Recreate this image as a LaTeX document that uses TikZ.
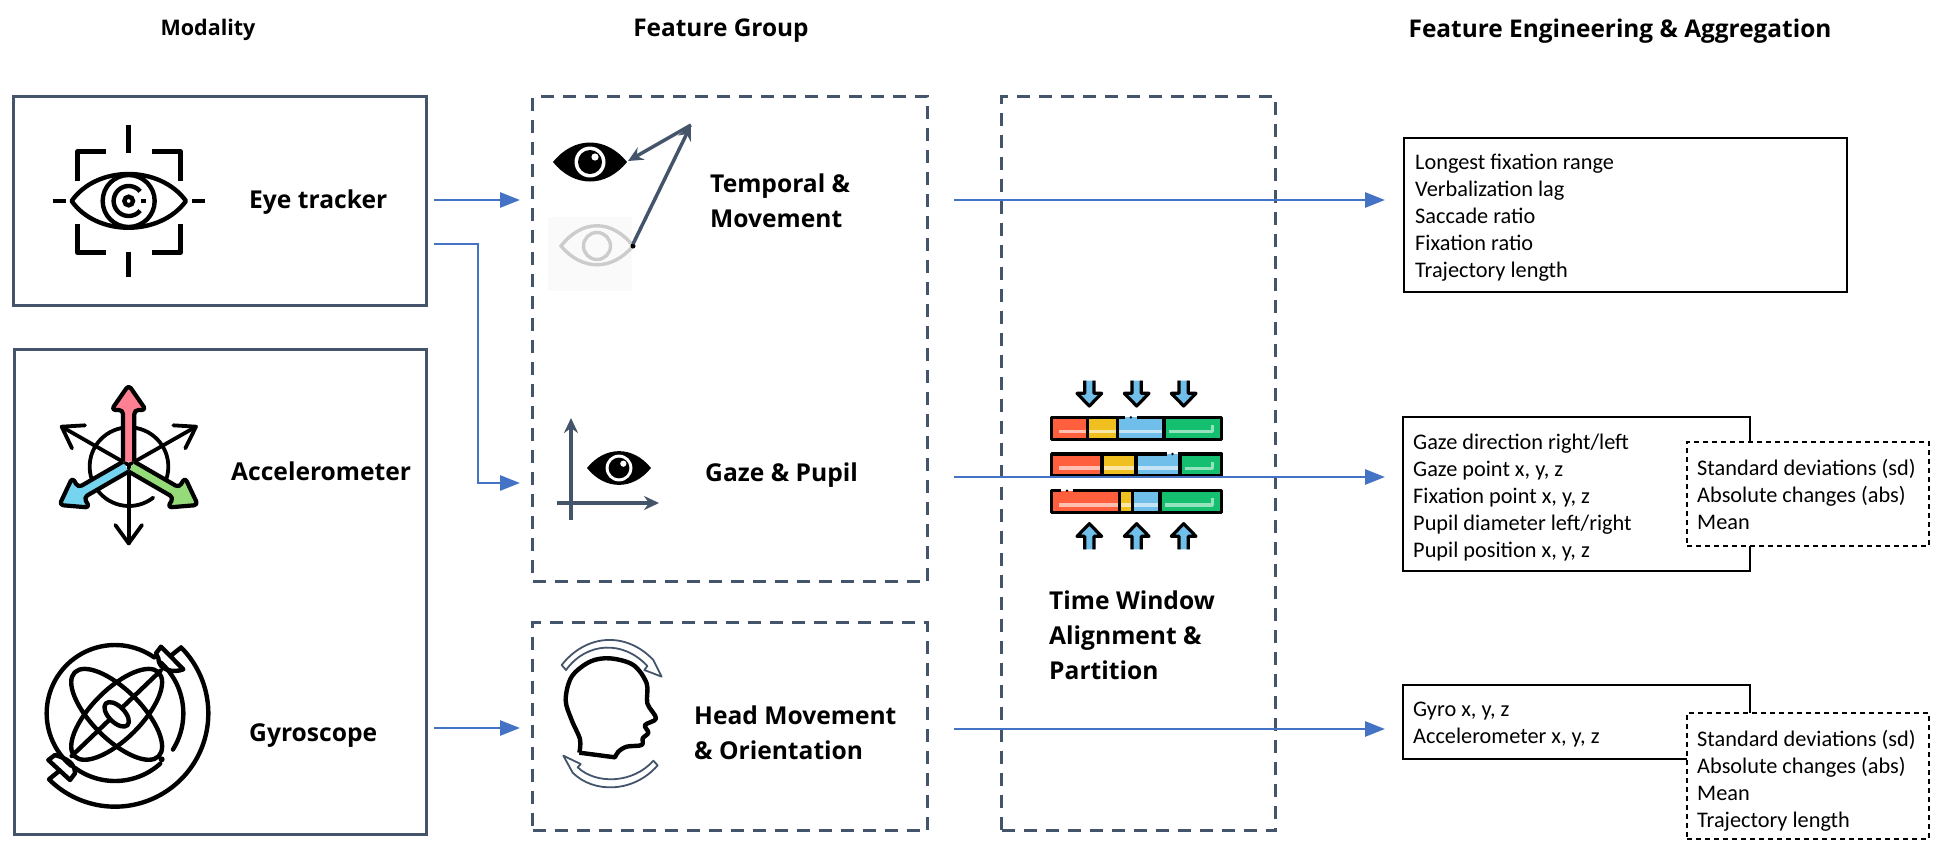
\documentclass[tikz,border=0pt]{standalone}
\usepackage{fontspec}
\setmainfont{Carlito}
\newfontfamily\headfont{Open Sans}
\usetikzlibrary{arrows.meta}
\definecolor{slate}{HTML}{44546A}
\definecolor{arrowblue}{HTML}{4472C4}
\definecolor{barred}{HTML}{FF5F3D}
\definecolor{baryellow}{HTML}{F0C020}
\definecolor{barblue}{HTML}{6FBFEA}
\definecolor{bargreen}{HTML}{14C070}
\definecolor{fatred}{HTML}{FF7F93}
\definecolor{fatblue}{HTML}{75D5F0}
\definecolor{fatgreen}{HTML}{95DB7A}
\tikzset{
 x=1pt,y=-1pt,
 solidbox/.style={draw=slate,line width=3.2pt,minimum width=0pt},
 groupbox/.style={draw=slate,line width=3.2pt,dash pattern=on 13pt off 9pt},
 textbox/.style={draw=black,line width=2.2pt,fill=white},
 smallbox/.style={draw=black,line width=2pt,dash pattern=on 5pt off 4pt,fill=white},
 flow/.style={draw=arrowblue,line width=2.8pt,-{Triangle[length=20pt,width=15pt]}},
 slatearrow/.style={draw=slate,line width=3.5pt,-{Stealth[length=15pt,width=14pt,inset=5pt]}},
 head/.style={font=\headfont\bfseries\fontsize{24.6}{28}\selectfont,anchor=west,align=left,inner sep=0pt},
 title/.style={font=\headfont\bfseries\fontsize{24.4}{28}\selectfont,inner sep=0pt},
 listing/.style={font=\fontsize{22.3}{27}\selectfont,anchor=north west,align=left,inner sep=0pt},
 icon/.style={line width=4.4pt,draw=black},
 thin arrowshape/.style={line width=3.8pt,draw=black,line cap=round,line join=round},
}
\newcommand{\boxat}[5]{\node[#1,anchor=north west,minimum width={(#4)*1pt-(#2)*1pt},minimum height={(#5)*1pt-(#3)*1pt},inner sep=0pt] (#1#2) at (#2,#3) {};}
\newcommand{\solideye}[3]{%
 \begin{scope}[shift={(#1,#2)},scale=#3]
 \fill[black] (-37,0) .. controls (-16,-26) and (16,-26) .. (37,0) .. controls (16,26) and (-16,26) .. (-37,0) -- cycle;
 \fill[white] (0,0) circle[radius=15.5pt];
 \fill[black] (0,0) circle[radius=12pt];
 \fill[white] (5,-5) circle[radius=3.6pt];
 \end{scope}}
\newcommand{\fatarrow}[2]{%
 \begin{scope}[shift={(386,525)},rotate=#1]
 \draw[fill=#2,line width=4.2pt,line join=round,rounded corners=4pt] (-17,-10) -- (-17,-165) -- (-52,-165) -- (0,-240) -- (52,-165) -- (17,-165) -- (17,-10);
 \end{scope}}
\newcommand{\timebar}[6]{% y, d1,d2,d3, gapstart, gapend
 \fill[barred] (35,#1) rectangle (#2,#1+66);
 \fill[baryellow] (#2,#1) rectangle (#3,#1+66);
 \fill[barblue] (#3,#1) rectangle (#4,#1+66);
 \fill[bargreen] (#4,#1) rectangle (545,#1+66);
 \fill[white,opacity=.6] (58,#1+37) rectangle (#4-6,#1+48);
 \draw[white,opacity=.55,line width=3.2pt,line join=round] (#4+16,#1+43) -- (517,#1+43) -- (517,#1+23);
 \draw[black,line width=3.2pt,line join=round] (#5,#1) -- (35,#1) -- (35,#1+66) -- (545,#1+66) -- (545,#1) -- (#6,#1);
 \fill[black] ({(#5+#6)/2},#1) circle[radius=4pt];
 \foreach \d in {#2,#3,#4}{\draw[black,line width=3.2pt] (\d,#1) -- (\d,#1+66);}}
\newcommand{\downicon}[1]{%
 \fill[barblue] (#1-17,32) -- (#1+17,32) -- (#1+17,70) -- (#1+37,70) -- (#1,108) -- (#1-37,70) -- (#1-17,70) -- cycle;
 \draw[black,line width=3.2pt,line join=round] (#1-14,32) -- (#1-14,70) -- (#1-37,70) -- (#1,108) -- (#1+37,70) -- (#1+14,70) -- (#1+14,32);}
\newcommand{\upicon}[1]{%
 \fill[barblue] (#1-17,538) -- (#1+17,538) -- (#1+17,499) -- (#1+37,499) -- (#1,461) -- (#1-37,499) -- (#1-17,499) -- cycle;
 \draw[black,line width=3.2pt,line join=round] (#1-14,538) -- (#1-14,499) -- (#1-37,499) -- (#1,461) -- (#1+37,499) -- (#1+14,499) -- (#1+14,538);}
\begin{document}
\begin{tikzpicture}
\useasboundingbox (0,0) rectangle (1942,852);
% headers
\node[title,font=\headfont\bfseries\fontsize{21.5}{28}\selectfont] (hmod) at (208,30) {Modality};
\node[title] (hfg) at (721,31) {Feature Group};
\node[title] (hfe) at (1620,31) {Feature Engineering \& Aggregation};
% modality boxes
\boxat{solidbox}{12}{95}{425}{304}
\boxat{solidbox}{13}{348}{425}{833}
% eye tracker icon
\begin{scope}[shift={(0,70)},scale=1/3,icon,line cap=butt]
 \draw[line join=round] (232,332) -- (232,245) -- (318,245);
 \draw[line join=round] (456,245) -- (542,245) -- (542,332);
 \draw[line join=round] (232,462) -- (232,548) -- (318,548);
 \draw[line join=round] (456,548) -- (542,548) -- (542,462);
 \draw (386,165) -- (386,248); \draw (386,545) -- (386,620);
 \draw (158,393) -- (197,393); \draw (577,393) -- (615,393);
 \draw[line join=round] (215,393) .. controls (290,285) and (480,285) .. (558,393) .. controls (480,500) and (290,500) .. (215,393) -- cycle;
 \draw (386,393) circle[radius=78pt];
 \draw plot[smooth,domain=40:320,samples=40] ({386+45*cos(\x)},{393+45*sin(\x)});
 \draw (386,393) circle[radius=13pt];
 \draw (424,393) -- (438,393);
\end{scope}
% accelerometer icon
\begin{scope}[shift={(0,290)},scale=1/3]
 \draw[thin arrowshape] plot[smooth,domain=52:390,samples=60] ({387+118*cos(\x)},{530+118*sin(\x)});
 \draw[thin arrowshape] (386,525) -- (386,760); \draw[thin arrowshape] (346,705) -- (386,760) -- (426,705);
 \draw[thin arrowshape] (386,525) -- (185,410); \draw[thin arrowshape] (255,406) -- (185,410) -- (216,475);
 \draw[thin arrowshape] (386,525) -- (588,410); \draw[thin arrowshape] (520,406) -- (588,410) -- (556,475);
 \fatarrow{0}{fatred}
 \fatarrow{120}{fatblue}
 \fatarrow{-120}{fatgreen}
\end{scope}
% gyroscope icon
\begin{scope}[shift={(30,630)},scale=1/3,icon,line cap=round,line join=round]
 \draw plot[smooth,domain=130:305,samples=50] ({255+205*cos(\x)},{250+205*sin(\x)});
 \draw plot[smooth,domain=48:126,samples=30] ({255+203*cos(\x)},{250+203*sin(\x)});
 \draw plot[smooth,domain=-48:32,samples=30] ({255+205*cos(\x)},{250+205*sin(\x)});
 \fill[black] (395,388) circle[radius=9pt];
 \draw (425,75) -- (450,55) plot[smooth,domain=-45:135,samples=60] ({255+280*cos(\x)},{250+280*sin(\x)}) -- (85,425);
 \draw (393,50) -- (460,118) .. controls (430,130) and (385,120) .. (385,85) -- (378,70) -- cycle;
 \draw (75,375) -- (55,390) -- (120,450) -- (135,430) .. controls (135,400) and (110,385) .. (75,375) -- cycle;
 \draw[rotate around={45:(260,253)}] (260,253) ellipse[x radius=178pt,y radius=74pt];
 \draw[rotate around={-45:(260,253)}] (260,253) ellipse[x radius=178pt,y radius=74pt];
 \draw (125,378) -- (392,122);
 \draw[fill=white,rotate around={-45:(260,253)}] (260,253) ellipse[x radius=46pt,y radius=24pt];
\end{scope}
% modality labels
\node[head] (leye) at (249,202) {Eye tracker};
\node[head] (lacc) at (231,471) {Accelerometer};
\node[head] (lgyr) at (249,736) {Gyroscope};
% feature group boxes
\boxat{groupbox}{531}{95}{926}{580}
\boxat{groupbox}{531}{621}{926}{829}
\boxat{groupbox}{1000}{95}{1274}{829}
% temporal icon
\fill[black!2] (548,217) rectangle (632,291);
\draw[black!20,line width=3.4pt] (561,246) .. controls (582,219) and (612,219) .. (633,246) .. controls (612,271) and (582,271) .. (561,246) -- cycle;
\draw[black!20,line width=3.4pt] (597,246) circle[radius=13.5pt];
\solideye{590}{162}{1}
\fill[black] (633,246) circle[radius=2.5pt];
\coordinate (apex) at (691,125);
\coordinate (greyeye) at (633,244);
\coordinate (blackeye) at (628,161);
\draw[slatearrow] (greyeye) -- (apex);
\draw[slatearrow] (apex) -- (blackeye);
\node[head] (ltemp) at (710,201) {Temporal \&\\[7pt]Movement};
% gaze icon
\solideye{619}{468}{.865}
\coordinate (ya) at (571,520); \coordinate (yb) at (571,418);
\coordinate (xa) at (557,503); \coordinate (xb) at (659,503);
\draw[slatearrow] (ya) -- (yb);
\draw[slatearrow] (xa) -- (xb);
\node[head] (lgaze) at (705,475) {Gaze \& Pupil};
% head icon
\begin{scope}[shift={(530,620)},scale=1/3]
 \draw[line width=4.4pt,line join=round] plot[smooth,tension=.55] coordinates {(148,398) (150,358) (125,300) (107,240) (125,170) (180,125) (240,115) (310,135) (350,190) (352,250) (378,295) (345,315) (355,338) (338,355) (335,375) (290,380) (265,395) (255,412)} -- (148,398);
 \draw[slate,fill=white,line width=1.8pt,line join=round] (95,135) .. controls (170,40) and (290,35) .. (370,120) -- (395,170) -- (343,150) -- (352,138) .. controls (280,60) and (170,65) .. (108,150) -- cycle;
 \draw[slate,fill=white,line width=1.8pt,line join=round] (383,436) .. controls (310,520) and (190,520) .. (128,458) -- (100,407) -- (152,432) -- (143,442) .. controls (200,495) and (310,490) .. (370,422) -- cycle;
\end{scope}
\node[head] (lhead) at (694,733) {Head Movement\\[7pt]\& Orientation};
% time window icon
\begin{scope}[shift={(1040,370)},scale=1/3]
 \timebar{142}{142}{232}{372}{255}{290}
 \timebar{252}{186}{288}{420}{380}{415}
 \timebar{362}{238}{278}{360}{62}{100}
 \downicon{148}\downicon{290}\downicon{431}
 \upicon{148}\upicon{290}\upicon{431}
\end{scope}
\node[head] (ltime) at (1049,635) {Time Window\\[7pt]Alignment \&\\[7pt]Partition};
% right boxes
\boxat{textbox}{1403}{137}{1846}{291}
\node[listing] (ta) at (1415,154) {Longest fixation range\\Verbalization lag\\Saccade ratio\\Fixation ratio\\Trajectory length};
\boxat{textbox}{1402}{416}{1749}{570}
\node[listing] (tb) at (1413,434) {Gaze direction right/left\\Gaze point x, y, z\\Fixation point x, y, z\\Pupil diameter left/right\\Pupil position x, y, z};
\boxat{smallbox}{1686}{441}{1928}{545}
\node[listing] (tc) at (1697,459) {Standard deviations (sd)\\Absolute changes (abs)\\Mean};
\boxat{textbox}{1402}{684}{1749}{758}
\node[listing] (td) at (1413,702) {Gyro x, y, z\\Accelerometer x, y, z};
\boxat{smallbox}{1686}{712}{1928}{838}
\node[listing] (te) at (1697,730) {Standard deviations (sd)\\Absolute changes (abs)\\Mean\\Trajectory length};
% connectors
\coordinate (s1) at (434,200); \coordinate (e1) at (520,200);
\coordinate (s2) at (434,244); \coordinate (b2) at (478,244); \coordinate (c2) at (478,483); \coordinate (e2) at (520,483);
\coordinate (s3) at (434,728); \coordinate (e3) at (520,728);
\coordinate (l1s) at (954,200); \coordinate (l1e) at (1385,200);
\coordinate (l2s) at (954,477); \coordinate (l2e) at (1385,477);
\coordinate (l3s) at (954,729); \coordinate (l3e) at (1385,729);
\draw[flow] (s1) -- (e1);
\draw[flow] (s2) -- (b2) -- (c2) -- (e2);
\draw[flow] (s3) -- (e3);
\draw[flow] (l1s) -- (l1e);
\draw[flow] (l2s) -- (l2e);
\draw[flow] (l3s) -- (l3e);
\end{tikzpicture}
\end{document}
